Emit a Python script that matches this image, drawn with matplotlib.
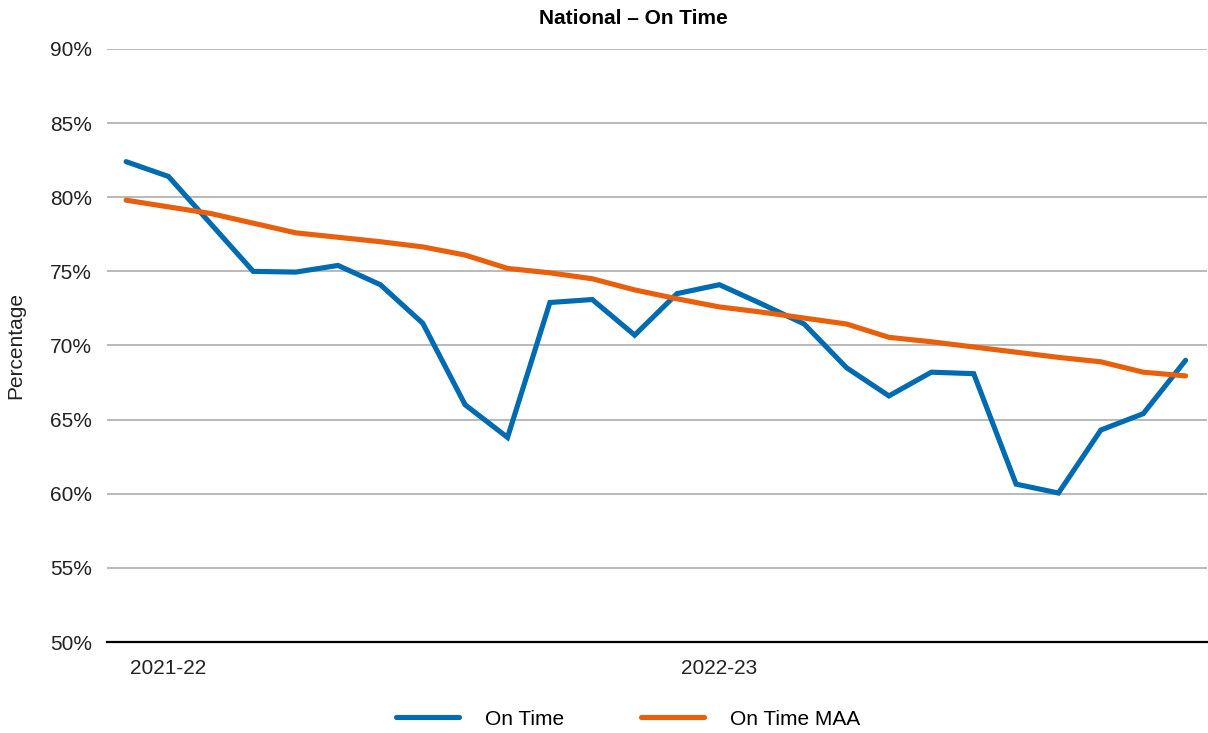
import matplotlib.pyplot as plt
from matplotlib.ticker import PercentFormatter

# monthly values
on_time = [82.4, 81.4, 78.2, 75.0, 74.95, 75.4, 74.1, 71.5, 66.0, 63.8,
           72.9, 73.1, 70.7, 73.5, 74.1, 72.8, 71.45, 68.5, 66.6, 68.2,
           68.1, 60.65, 60.05, 64.3, 65.4, 69.0]
on_time_maa = [79.8, 79.35, 78.9, 78.25, 77.6, 77.3, 77.0, 76.65, 76.1, 75.2,
               74.9, 74.5, 73.75, 73.15, 72.6, 72.25, 71.85, 71.45, 70.55, 70.25,
               69.9, 69.55, 69.2, 68.9, 68.2, 67.95]
year_ticks = [1, 14]
year_labels = ["2021-22", "2022-23"]

plt.rcParams['font.family'] = ['Liberation Sans', 'DejaVu Sans']

fig = plt.figure(figsize=(12.08, 7.33), dpi=100)
ax = fig.add_axes([0.0886, 0.1241, 0.9104, 0.8091])

x = range(len(on_time))
ax.plot(x, on_time, color="#006BB0", lw=3.7, label="On Time",
        solid_capstyle="round", solid_joinstyle="miter")
ax.plot(x, on_time_maa, color="#E85F0C", lw=3.7, label="On Time MAA",
        solid_capstyle="round", solid_joinstyle="miter")

ax.set_ylim(50, 90)
ax.set_xlim(-0.45, 25.5)
ax.set_yticks(range(50, 91, 5))
ax.yaxis.set_major_formatter(PercentFormatter(decimals=0))
ax.set_xticks(year_ticks)
ax.set_xticklabels(year_labels)
ax.tick_params(axis="both", length=0, labelsize=15, colors="#222222")
ax.tick_params(axis="y", pad=11)
ax.tick_params(axis="x", pad=12)

ax.grid(axis="y", color="#A6A6A6", lw=1.1)
ax.set_axisbelow(True)
for s in ["top", "right", "left"]:
    ax.spines[s].set_visible(False)
ax.spines["bottom"].set_color("black")
ax.spines["bottom"].set_linewidth(1.6)
ax.spines["bottom"].set_zorder(3)

ax.set_ylabel("Percentage", fontsize=15, color="#222222")
ax.yaxis.set_label_coords(-0.074, 0.5)
fig.text(0.524, 0.975, "National – On Time", ha="center", va="center",
         fontsize=15, fontweight="bold")

fig.legend(loc="center", bbox_to_anchor=(0.52, 0.019), ncol=2, frameon=False,
           fontsize=15, handlelength=3.0, handletextpad=1.25, columnspacing=3.7)

fig.savefig("out.png", dpi=100)
